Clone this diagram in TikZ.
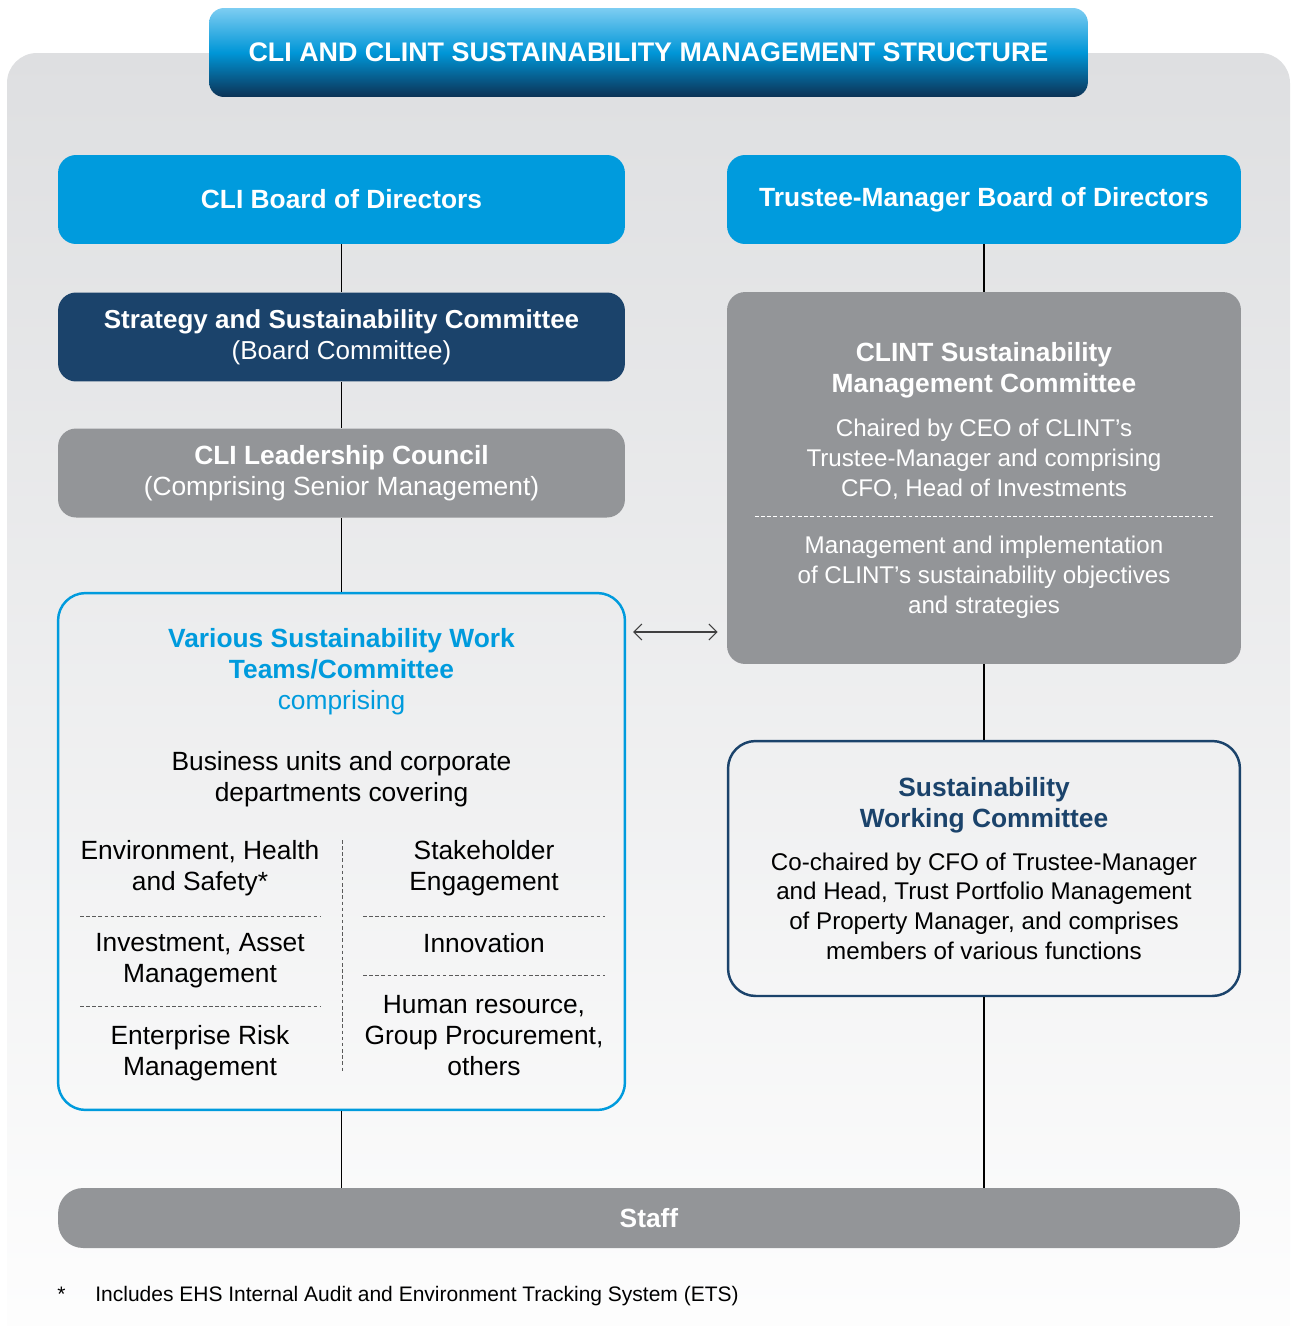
\documentclass[tikz,border=0pt]{standalone}
\usepackage{fontspec}
\setmainfont{Liberation Sans}
\usetikzlibrary{arrows.meta}

\definecolor{cliblue}{RGB}{0,155,221}
\definecolor{clinavy}{RGB}{27,67,107}
\definecolor{cligray}{RGB}{147,149,152}
\definecolor{titletop}{RGB}{125,205,242}
\definecolor{titlemid}{RGB}{0,150,215}
\definecolor{titlebot}{RGB}{12,50,85}
\definecolor{paneltop}{RGB}{222,223,225}
\definecolor{dashgray}{RGB}{90,90,90}

\newcommand{\bodyfont}{\fontsize{15}{17.4}\selectfont}
\newcommand{\smallbody}{\fontsize{13.75}{16.8}\selectfont}

\tikzset{
  orgbox/.style={rounded corners=0.36cm, inner sep=0pt, align=center, font=\bodyfont},
  bluebox/.style={orgbox, fill=cliblue, text=white, minimum height=1.78cm},
  navybox/.style={orgbox, fill=clinavy, text=white, minimum height=1.78cm},
  graybox/.style={orgbox, fill=cligray, text=white},
  framebox/.style={orgbox, rounded corners=0.55cm, line width=1.4pt},
  titlebar/.style={rounded corners=0.3cm, inner sep=0pt, minimum width=17.58cm, minimum height=1.78cm,
    top color=titletop, bottom color=titlebot, middle color=titlemid, text=white,
    font=\fontsize{15.3}{18}\selectfont\bfseries},
  txt/.style={inner sep=0pt, align=center, anchor=base, font=\bodyfont},
  smalltxt/.style={txt, font=\smallbody},
  sep/.style={dashgray, line width=0.5pt, dash pattern=on 2pt off 1.5pt},
  link/.style={black, line width=0.6pt},
}

\begin{document}
\begin{tikzpicture}[x=0.02cm,y=-0.02cm]
    \useasboundingbox (0,0) rectangle (1293,1326);
    % background panel
    \shade[top color=paneltop, bottom color=white, rounded corners=0.6cm] (7,53) rectangle (1290,1400);
    \node[titlebar] (title) at (648.5,52.5) {CLI AND CLINT SUSTAINABILITY MANAGEMENT STRUCTURE};

    % left column
    \node[bluebox, minimum width=11.34cm] (cliboard) at (341.5,199.5) {\textbf{CLI Board of Directors}};
    \node[navybox, minimum width=11.34cm, font=\fontsize{14.8}{17.6}\selectfont] (strategy) at (341.5,337)
        {\textbf{Strategy and Sustainability Committee}\\(Board Committee)};
    \node[graybox, minimum width=11.34cm, minimum height=1.78cm] (council) at (341.5,473)
        {\textbf{CLI Leadership Council}\\(Comprising Senior Management)};
    \node[framebox, draw=cliblue, minimum width=11.34cm, minimum height=10.34cm] (various) at (341.5,851.5) {};

    \node[txt, text=cliblue] (varhead) at (341.5,709)
        {\textbf{Various Sustainability Work}\\\textbf{Teams/Committee}\\comprising};
    \node[txt] (varbody) at (341.5,801) {Business units and corporate\\departments covering};
    \node[txt] (ehs) at (200,890) {Environment, Health\\and Safety*};
    \node[txt] (invest) at (200,982) {Investment, Asset\\Management};
    \node[txt] (erm) at (200,1075) {Enterprise Risk\\Management};
    \node[txt] (stake) at (484,890) {Stakeholder\\Engagement};
    \node[txt] (innov) at (484,952) {Innovation};
    \node[txt] (hr) at (484,1075) {Human resource,\\Group Procurement,\\others};
    \draw[sep] (342,840) -- (342,1072);
    \draw[sep] (80,916) -- (320,916);
    \draw[sep] (80,1006) -- (320,1006);
    \draw[sep] (363,916) -- (605,916);
    \draw[sep] (363,975) -- (605,975);

    % right column
    \node[bluebox, minimum width=10.28cm] (tmboard) at (984,199.5) {\textbf{Trustee-Manager Board of Directors}};
    \node[graybox, minimum width=10.28cm, minimum height=7.44cm] (clint) at (984,478) {};
    \node[txt, text=white] (clinthead) at (984,392) {\textbf{CLINT Sustainability}\\\textbf{Management Committee}};
    \node[smalltxt, text=white] (clintchair) at (984,496)
        {Chaired by CEO of CLINT’s\\Trustee-Manager and comprising\\CFO, Head of Investments};
    \draw[white, line width=0.5pt, dash pattern=on 2pt off 1.5pt] (755,516) -- (1213,516);
    \node[smalltxt, text=white] (clintrole) at (984,613)
        {Management and implementation\\of CLINT’s sustainability objectives\\and strategies};
    \node[framebox, draw=clinavy, minimum width=10.24cm, minimum height=5.1cm] (swc) at (984,868.5) {};
    \node[txt, text=clinavy] (swchead) at (984,827) {\textbf{Sustainability}\\\textbf{Working Committee}};
    \node[smalltxt] (swcbody) at (984,959)
        {Co-chaired by CFO of Trustee-Manager\\and Head, Trust Portfolio Management\\of Property Manager, and comprises\\members of various functions};

    % staff
    \node[graybox, rounded corners=0.5cm, minimum width=23.64cm, minimum height=1.2cm] (staff) at (649,1218) {\textbf{Staff}};

    % connectors
    \draw[link] (cliboard) -- (strategy);
    \draw[link] (strategy) -- (council);
    \draw[link] (council) -- (various);
    \draw[link] (various) -- (various |- staff.north);
    \draw[link] (tmboard) -- (clint);
    \draw[link] (clint) -- (swc);
    \draw[link] (swc) -- (swc |- staff.north);
    \draw[black!75, line width=0.6pt, {Straight Barb[length=0.16cm,width=0.32cm]}-{Straight Barb[length=0.16cm,width=0.32cm]},
        shorten <=0.14cm, shorten >=0.18cm] (various.east |- 0,632) -- (clint.west |- 0,632);

    % footnote
    \node[inner sep=0pt, anchor=base west, font=\fontsize{11.95}{14}\selectfont] (star) at (57,1301) {*};
    \node[inner sep=0pt, anchor=base west, font=\fontsize{11.95}{14}\selectfont] (note) at (95,1301)
        {Includes EHS Internal Audit and Environment Tracking System (ETS)};
\end{tikzpicture}
\end{document}
